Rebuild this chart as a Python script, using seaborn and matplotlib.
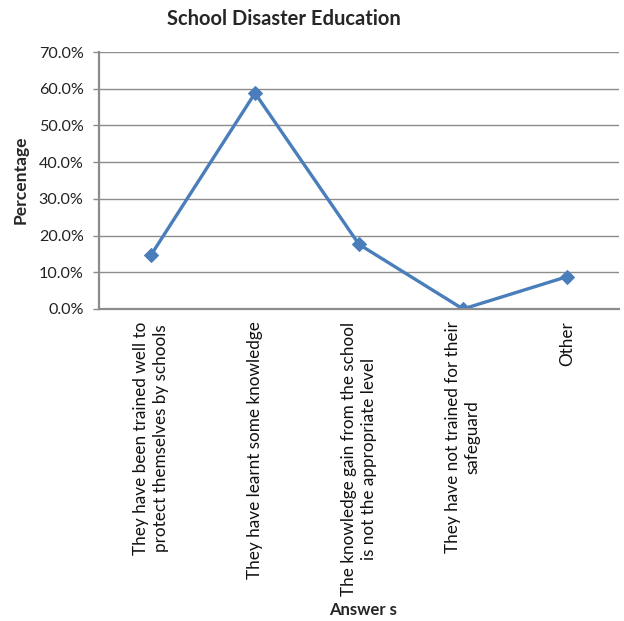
import matplotlib
matplotlib.use("Agg")
import matplotlib.pyplot as plt
import seaborn as sns
import pandas as pd
from matplotlib.ticker import FuncFormatter, MultipleLocator

categories = [
    "They have been trained well to\nprotect themselves by schools",
    "They have learnt some knowledge",
    "The knowledge gain from the school\nis not the appropriate level",
    "They have not trained for their\nsafeguard",
    "Other",
]
percentages = [14.7, 58.8, 17.6, 0.0, 8.8]
title = "School Disaster Education"
ylabel = "Percentage"
xlabel = "Answer s"

sns.set_style("white")
plt.rcParams["font.family"] = ["Lato", "DejaVu Sans"]

df = pd.DataFrame({"pos": range(len(categories)), "pct": percentages})

fig = plt.figure(figsize=(6.24, 6.21), dpi=100)
ax = fig.add_axes([99 / 624, 1 - 309 / 621, 520 / 624, 257 / 621])

blue = "#4A7EBB"
grid = "#8C8C8C"
sns.lineplot(data=df, x="pos", y="pct", ax=ax, color=blue, linewidth=2.4,
             marker="D", markersize=7.5, markeredgecolor=blue, sort=False)

ax.set_xlim(-0.5, len(categories) - 0.5)
ax.set_ylim(0, 70)
ax.yaxis.set_major_locator(MultipleLocator(10))
ax.yaxis.set_major_formatter(FuncFormatter(lambda v, p: f"{v:.1f}%"))
ax.grid(axis="y", color=grid, linewidth=1.0)
ax.set_axisbelow(True)
for s in ["top", "right"]:
    ax.spines[s].set_visible(False)
for s in ["left", "bottom"]:
    ax.spines[s].set_color(grid)
    ax.spines[s].set_linewidth(1.6)
ax.tick_params(axis="y", length=4, width=1.0, color=grid, pad=7,
               labelsize=11.6, labelcolor="#222222", left=True)
ax.set_xticks(range(len(categories)))
ax.set_xticklabels(categories, rotation=90, ha="center", va="top",
                   multialignment="center", fontsize=12.3, color="#111111",
                   linespacing=1.3)
ax.tick_params(axis="x", length=0, pad=9)
ax.set_xlabel("")
ax.set_ylabel("")

fig.text(284 / 624, 1 - 19 / 621, title, ha="center", va="center",
         fontsize=14.5, fontweight="bold")
fig.text(21 / 624, 1 - 180 / 621, ylabel, ha="center", va="center",
         rotation=90, fontsize=12.6, fontweight="bold")
fig.text(363 / 624, 1 - 610 / 621, xlabel, ha="center", va="center",
         fontsize=12, fontweight="bold")

fig.savefig("out.png", dpi=100)
